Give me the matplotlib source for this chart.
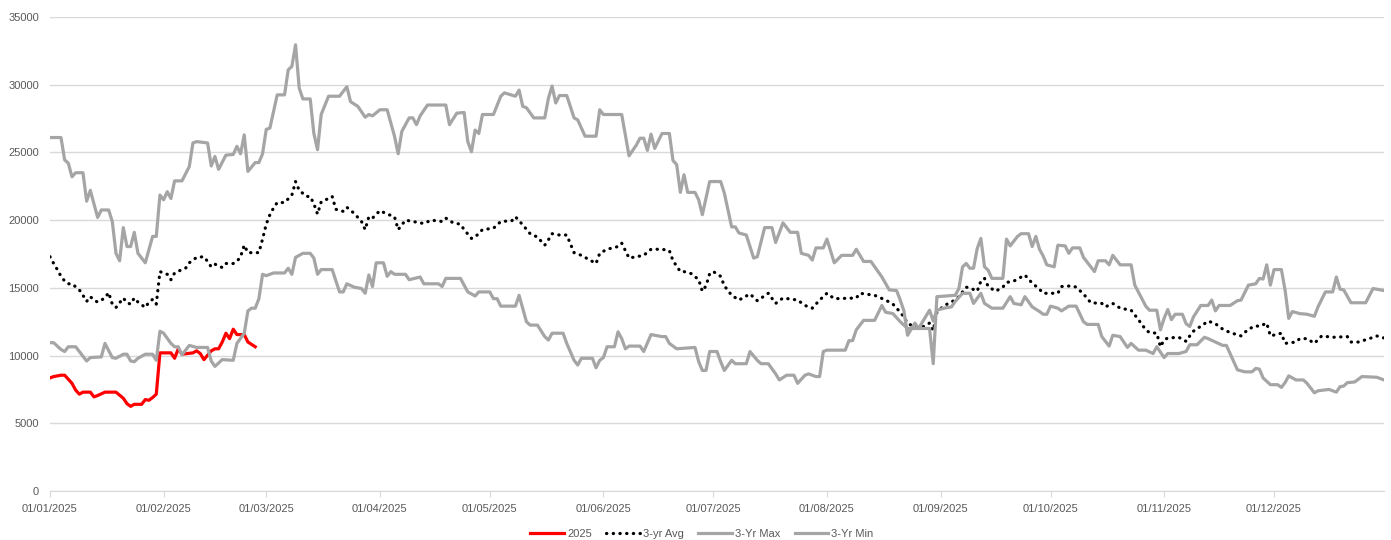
import matplotlib
matplotlib.use("Agg")
import matplotlib.pyplot as plt
import matplotlib.dates as mdates
import pandas as pd

# day offsets from 01/01/2025 and values
cur_days = [0, 1, 3, 4, 6, 7, 8, 9, 11, 12, 13, 15, 18, 20, 21, 22, 23, 25, 26, 27, 28, 29,
            30, 33, 34, 35, 36, 39, 40, 41, 42, 44, 45, 46, 47, 48, 49, 50, 51, 53, 54, 56]
cur_vals = [8350, 8450, 8550, 8550, 7950, 7450, 7150, 7300, 7300, 6950, 7050, 7300, 7300, 6850,
            6450, 6250, 6400, 6400, 6750, 6700, 6900, 7150, 10200, 10200, 9800, 10500, 10100,
            10200, 10350, 10150, 9700, 10350, 10500, 10500, 11000, 11650, 11250, 11950, 11550,
            11550, 11000, 10650]

avg_days = [0, 1, 2, 3, 4, 5, 6, 8, 9, 10, 11, 12, 13, 15, 16, 17, 18, 20, 21, 22, 23, 24, 26,
            27, 28, 29, 30, 32, 33, 34, 36, 37, 38, 40, 42, 43, 44, 45, 47, 48, 50, 51, 52, 53,
            54, 57, 58, 59, 60, 61, 62, 64, 66, 67, 68, 70, 71, 72, 73, 74, 76, 77, 78, 80, 81,
            83, 85, 86, 87, 88, 90, 92, 94, 95, 97, 99, 102, 104, 107, 108, 110, 112, 113, 115,
            116, 118, 121, 123, 126, 127, 129, 131, 133, 135, 136, 137, 139, 141, 143, 145, 147,
            149, 150, 152, 155, 156, 158, 160, 162, 164, 167, 169, 170, 172, 173, 175, 177, 178,
            179, 180, 181, 183, 184, 186, 188, 191, 193, 196, 198, 200, 204, 206, 208, 210, 212,
            214, 220, 221, 225, 228, 230, 232, 233, 234, 236, 238, 240, 241, 242, 244, 246, 248,
            250, 251, 253, 254, 255, 256, 258, 260, 261, 263, 266, 268, 270, 271, 275, 276, 279,
            280, 282, 284, 287, 288, 290, 292, 295, 297, 299, 300, 302, 303, 304, 305, 308, 310,
            311, 312, 315, 316, 318, 320, 322, 325, 327, 329, 330, 332, 333, 336, 337, 340, 341,
            343, 345, 347, 350, 354, 355, 357, 360, 362, 364]
avg_vals = [17300, 16800, 16350, 15850, 15500, 15300, 15300, 14850, 14450, 14000, 14350, 14100,
            13950, 14250, 14650, 13800, 13550, 14250, 13900, 13800, 14250, 13950, 13550, 13950,
            14150, 13800, 16200, 16000, 15600, 16100, 16350, 16450, 16850, 17250, 17300, 16950,
            16550, 16750, 16500, 16800, 16800, 16950, 17300, 18150, 17600, 17600, 18600, 19700,
            20400, 20900, 21300, 21300, 21850, 22850, 22200, 21750, 21750, 21200, 20450, 21350,
            21600, 21750, 20800, 20650, 20950, 20500, 19900, 19300, 20250, 20150, 20700, 20450,
            20250, 19300, 20000, 19900, 19750, 20000, 19900, 20150, 19800, 19700, 19300, 18650,
            18750, 19300, 19400, 19900, 19950, 20250, 19650, 19000, 18750, 18150, 18550, 19000,
            18900, 18900, 17600, 17400, 17100, 16800, 17550, 17850, 18050, 18300, 17200, 17300,
            17400, 17850, 17850, 17750, 17000, 16200, 16200, 16050, 15600, 14750, 15150, 16050,
            16200, 15850, 15150, 14450, 14100, 14550, 14050, 14600, 13850, 14250, 14100, 13700,
            13500, 14100, 14600, 14200, 14250, 14600, 14450, 14100, 13800, 13200, 12850, 12350,
            12150, 12100, 12400, 11850, 13200, 13700, 13950, 14350, 15050, 15000, 14750, 15500,
            15700, 15100, 14750, 15050, 15400, 15500, 15950, 15350, 14900, 14600, 14600, 15100,
            15150, 15050, 14550, 13900, 13850, 13600, 13850, 13500, 13350, 12650, 11900, 11700,
            11650, 10650, 11150, 11300, 11350, 11050, 11450, 11800, 12350, 12550, 12350, 11950,
            11700, 11450, 11950, 12200, 12150, 12400, 11450, 11650, 10900, 11000, 11250, 11250,
            10900, 11450, 11350, 11400, 11000, 11000, 11250, 11450, 11300]

max_days = [0, 3, 4, 5, 6, 7, 9, 10, 11, 13, 14, 16, 17, 18, 19, 20, 21, 22, 23, 24, 26, 28, 29,
            30, 31, 32, 33, 34, 36, 38, 39, 40, 43, 44, 45, 46, 48, 50, 51, 52, 53, 54, 56, 57,
            58, 59, 60, 62, 64, 65, 66, 67, 68, 69, 71, 72, 73, 74, 76, 79, 81, 82, 84, 86, 87,
            88, 90, 92, 94, 95, 96, 98, 99, 100, 101, 103, 108, 109, 111, 113, 114, 115, 116,
            117, 118, 121, 123, 124, 127, 128, 129, 130, 132, 135, 136, 137, 138, 139, 141, 143,
            144, 146, 149, 150, 151, 156, 158, 160, 161, 162, 163, 164, 165, 167, 169, 170, 171,
            172, 173, 174, 176, 177, 178, 180, 183, 184, 186, 187, 188, 190, 192, 193, 195, 197,
            198, 200, 202, 204, 205, 207, 208, 209, 211, 212, 214, 216, 219, 220, 222, 224, 227,
            229, 231, 232, 233, 234, 236, 237, 240, 241, 242, 247, 248, 249, 250, 251, 252, 253,
            254, 255, 256, 257, 260, 261, 262, 264, 265, 267, 268, 269, 270, 271, 272, 274, 275,
            277, 278, 279, 281, 282, 285, 286, 288, 289, 290, 292, 295, 296, 299, 300, 302, 303,
            304, 305, 306, 307, 309, 310, 311, 312, 314, 316, 317, 318, 319, 322, 324, 325, 327,
            329, 330, 331, 332, 333, 334, 336, 337, 338, 339, 341, 343, 345, 346, 348, 350, 351,
            352, 353, 355, 359, 361, 364]
max_vals = [26100, 26100, 24450, 24200, 23200, 23500, 23500, 21400, 22200, 20200, 20750, 20750,
            19900, 17550, 17000, 19450, 18050, 18050, 19100, 17550, 16850, 18800, 18800, 21850,
            21500, 22100, 21600, 22900, 22900, 23950, 25700, 25800, 25700, 24000, 24700, 23750,
            24800, 24850, 25450, 24900, 26300, 23600, 24250, 24250, 24900, 26700, 26800, 29250,
            29250, 31100, 31350, 32950, 29750, 28950, 28950, 26400, 25200, 27800, 29150, 29150,
            29850, 28750, 28400, 27600, 27800, 27700, 28150, 28150, 26200, 24900, 26550, 27550,
            27550, 27050, 27700, 28500, 28500, 27050, 27900, 27950, 25800, 25050, 26650, 26400,
            27800, 27800, 29150, 29400, 29150, 29600, 28400, 28300, 27550, 27550, 29000, 29900,
            28650, 29200, 29200, 27550, 27400, 26200, 26200, 28150, 27800, 27800, 24750, 25550,
            26050, 26050, 25150, 26350, 25300, 26400, 26400, 24400, 24100, 22050, 23350, 22050,
            22050, 21500, 20400, 22850, 22850, 22000, 19500, 19500, 19050, 18900, 17200, 17300,
            19450, 19450, 18350, 19800, 19100, 19100, 17550, 17400, 17050, 17950, 17950, 18600,
            16850, 17400, 17400, 17850, 16950, 16950, 15800, 14850, 14800, 14100, 13300, 11500,
            12400, 12000, 12000, 9400, 14350, 14450, 14950, 16550, 16800, 16450, 16450, 17900,
            18650, 16550, 16300, 15700, 15700, 18600, 18100, 18800, 19000, 19000, 18050, 18800,
            17850, 17350, 16700, 16550, 18150, 18100, 17550, 17950, 17950, 17250, 16200, 17000,
            17000, 16700, 17400, 16700, 16700, 15200, 13650, 13350, 13350, 11900, 12750, 13400,
            12650, 13050, 13050, 12350, 12150, 12850, 13700, 13700, 14100, 13300, 13700, 13700,
            14050, 14100, 15200, 15300, 15700, 15650, 16700, 15200, 16350, 16350, 14850, 12750,
            13250, 13100, 13050, 12900, 13600, 14700, 14700, 15800, 14900, 14850, 13900, 13900,
            14950, 14800]

min_days = [0, 1, 3, 4, 5, 7, 9, 10, 11, 14, 15, 17, 18, 20, 21, 22, 23, 24, 26, 28, 29, 30, 31,
            33, 34, 35, 36, 38, 40, 43, 44, 45, 47, 50, 51, 53, 54, 55, 56, 57, 58, 59, 61, 64,
            65, 66, 67, 69, 71, 72, 73, 74, 77, 79, 80, 81, 83, 85, 86, 87, 88, 89, 91, 92, 93,
            94, 97, 98, 101, 102, 106, 107, 108, 112, 114, 116, 117, 120, 121, 122, 123, 127,
            128, 130, 131, 133, 135, 136, 137, 140, 141, 143, 144, 145, 148, 149, 150, 151, 152,
            154, 155, 156, 157, 158, 161, 162, 164, 167, 168, 169, 171, 176, 177, 178, 179, 180,
            182, 183, 184, 186, 187, 190, 191, 193, 194, 196, 198, 199, 201, 203, 204, 206, 207,
            209, 210, 211, 212, 217, 218, 219, 220, 222, 225, 227, 228, 230, 232, 234, 237, 240,
            241, 242, 244, 246, 247, 249, 251, 252, 254, 255, 257, 260, 262, 263, 265, 266, 268,
            270, 271, 272, 273, 275, 276, 278, 280, 282, 283, 286, 287, 289, 290, 292, 294, 295,
            297, 299, 301, 302, 304, 305, 308, 310, 311, 313, 315, 316, 318, 320, 321, 323, 324,
            326, 328, 329, 330, 331, 333, 335, 336, 337, 338, 340, 342, 343, 345, 346, 349, 351,
            352, 353, 354, 356, 358, 362, 364]
min_vals = [10950, 10950, 10450, 10300, 10650, 10650, 9950, 9600, 9850, 9900, 10900, 9850, 9800,
            10100, 10100, 9600, 9550, 9800, 10100, 10100, 9650, 11800, 11650, 10900, 10650, 10650,
            10050, 10750, 10600, 10600, 9600, 9200, 9700, 9650, 10900, 11650, 13300, 13500, 13500,
            14200, 16000, 15900, 16100, 16100, 16450, 16000, 17250, 17550, 17550, 17200, 16000,
            16350, 16350, 14700, 14700, 15300, 15050, 14950, 14600, 15950, 15100, 16850, 16850,
            15850, 16200, 16000, 16000, 15600, 15800, 15300, 15300, 15100, 15700, 15700, 14700,
            14400, 14700, 14700, 14200, 14200, 13650, 13650, 14450, 12500, 12250, 12250, 11400,
            11150, 11650, 11650, 10900, 9650, 9300, 9800, 9800, 9100, 9650, 9850, 10650, 10650,
            11750, 11250, 10500, 10700, 10700, 10300, 11550, 11400, 11400, 10900, 10500, 10600,
            9550, 8900, 8900, 10300, 10300, 9550, 8900, 9650, 9400, 9400, 10300, 9650, 9400, 9400,
            8650, 8200, 8550, 8550, 7950, 8550, 8650, 8450, 8450, 10300, 10400, 10400, 11100,
            11100, 11900, 12600, 12600, 13700, 13200, 13100, 12500, 12000, 12000, 13350, 12550,
            13350, 13500, 13600, 14000, 14600, 14600, 13850, 14600, 13850, 13500, 13500, 14350,
            13850, 13750, 14350, 13600, 13250, 13050, 13050, 13650, 13500, 13300, 13650, 13650,
            12500, 12300, 12300, 11400, 10700, 11500, 11400, 10600, 10900, 10400, 10400, 10150,
            10650, 9850, 10150, 10150, 10300, 10800, 10800, 11350, 11250, 11000, 10750, 10750,
            9550, 8950, 8800, 8800, 9050, 9000, 8350, 7850, 7850, 7650, 8000, 8500, 8200, 8200,
            7950, 7250, 7400, 7500, 7300, 7700, 7750, 8000, 8050, 8450, 8400, 8200]

start = pd.Timestamp("2025-01-01")


def to_dates(days):
    return start + pd.to_timedelta(days, unit="D")


plt.rcParams["font.family"] = ["Liberation Sans", "DejaVu Sans"]

fig = plt.figure(figsize=(13.91, 5.4), dpi=100)
ax = fig.add_axes([50 / 1391, 1 - 491 / 540, 1334 / 1391, 474 / 540])

grey = "#A5A5A5"
ax.plot(to_dates(cur_days), cur_vals, color="#FF0000", lw=2.3, label="2025")
ax.plot(to_dates(avg_days), avg_vals, color="black", lw=2.3,
        linestyle=(0, (0.1, 2.0)), dash_capstyle="round", label="3-yr Avg")
ax.plot(to_dates(max_days), max_vals, color=grey, lw=2.3, label="3-Yr Max")
ax.plot(to_dates(min_days), min_vals, color=grey, lw=2.3, label="3-Yr Min")

ax.set_ylim(0, 35000)
ax.set_yticks(range(0, 35001, 5000))
ax.set_xlim(pd.Timestamp("2025-01-01"), pd.Timestamp("2025-12-31"))
ax.xaxis.set_major_locator(mdates.MonthLocator())
ax.xaxis.set_major_formatter(mdates.DateFormatter("%d/%m/%Y"))

ax.grid(axis="y", color="#D9D9D9", lw=1)
ax.set_axisbelow(True)
for s in ["top", "right", "left"]:
    ax.spines[s].set_visible(False)
ax.spines["bottom"].set_color("#D9D9D9")
ax.tick_params(axis="y", length=0, pad=8, labelsize=8, labelcolor="#595959")
ax.tick_params(axis="x", length=4, color="#D9D9D9", pad=5, labelsize=8, labelcolor="#595959")

ax.legend(loc="center", bbox_to_anchor=(702 / 1391, 6 / 540), bbox_transform=fig.transFigure,
          ncol=4, frameon=False, fontsize=8, handlelength=3.0, columnspacing=1.3,
          labelcolor="#595959", handletextpad=0.3, borderpad=0)

fig.savefig("out.png", dpi=100)
